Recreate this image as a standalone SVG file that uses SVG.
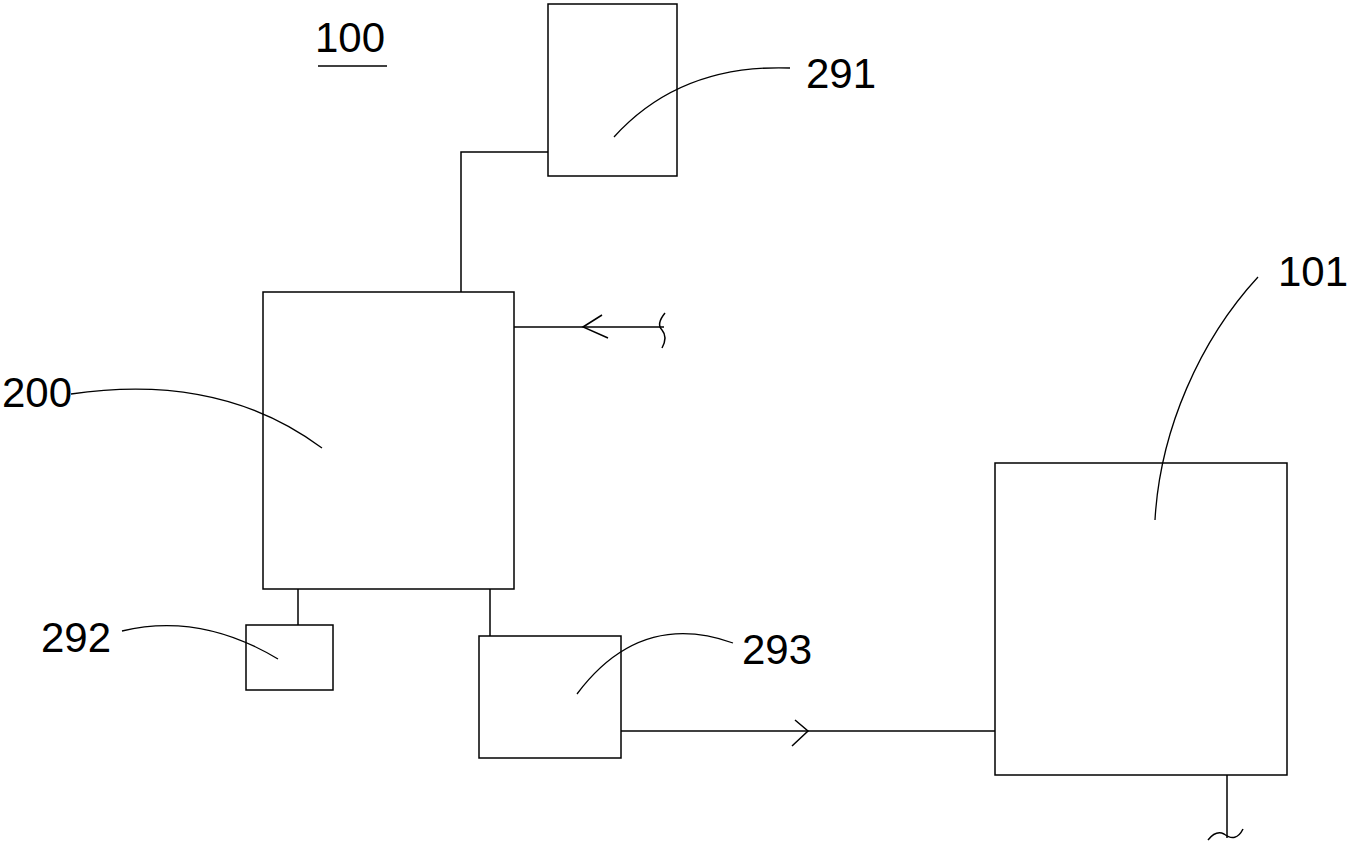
<svg xmlns="http://www.w3.org/2000/svg" width="1350" height="847" viewBox="0 0 1350 847">
<style>
.box{fill:#fff;stroke:#000;stroke-width:1.5}
.ln{fill:none;stroke:#000;stroke-width:1.5}
.ld{fill:none;stroke:#000;stroke-width:1.3}
.t{font-family:"Liberation Sans",Arial,sans-serif;font-size:42px;fill:#000}
</style>
<rect width="1350" height="847" fill="#fff"/>
<g id="connectors">
<polyline class="ln" points="461,292 461,152 548,152"/>
<line class="ln" x1="514" y1="327" x2="664" y2="327"/>
<polyline class="ln" points="602,315 583,327 608,338"/>
<path class="ln" d="M 665 313 Q 656 324 662 330 Q 668 337 662 348"/>
<line class="ln" x1="298" y1="589" x2="298" y2="625"/>
<line class="ln" x1="490" y1="589" x2="490" y2="636"/>
<line class="ln" x1="621" y1="731" x2="995" y2="731"/>
<polyline class="ln" points="795,720 808,731 792,746"/>
<line class="ln" x1="1227" y1="775" x2="1227" y2="838"/>
<path class="ln" d="M 1208 840 Q 1216 830 1224 834 Q 1236 843 1243 829"/>
</g>
<g id="label-100">
<text class="t" x="315" y="52">100</text>
<line class="ln" x1="318" y1="66" x2="387" y2="66"/>
</g>
<g id="node-291">
<rect class="box" x="548" y="4" width="129" height="172"/>
<path class="ld" d="M 614 137 Q 680 64 790 68"/>
<text class="t" x="806" y="88">291</text>
</g>
<g id="node-200">
<rect class="box" x="263" y="292" width="251" height="297"/>
<path class="ld" d="M 71 394 Q 220 372 322 448"/>
<text class="t" x="2" y="407">200</text>
</g>
<g id="node-292">
<rect class="box" x="246" y="625" width="87" height="65"/>
<path class="ld" d="M 122 631 Q 200 612 278 659"/>
<text class="t" x="41" y="652">292</text>
</g>
<g id="node-293">
<rect class="box" x="479" y="636" width="142" height="122"/>
<path class="ld" d="M 577 694 Q 640 610 733 643"/>
<text class="t" x="742" y="664">293</text>
</g>
<g id="node-101">
<rect class="box" x="995" y="463" width="292" height="312"/>
<path class="ld" d="M 1155 520 C 1160 430 1200 340 1258 277"/>
<text class="t" x="1278" y="286">101</text>
</g>
</svg>
